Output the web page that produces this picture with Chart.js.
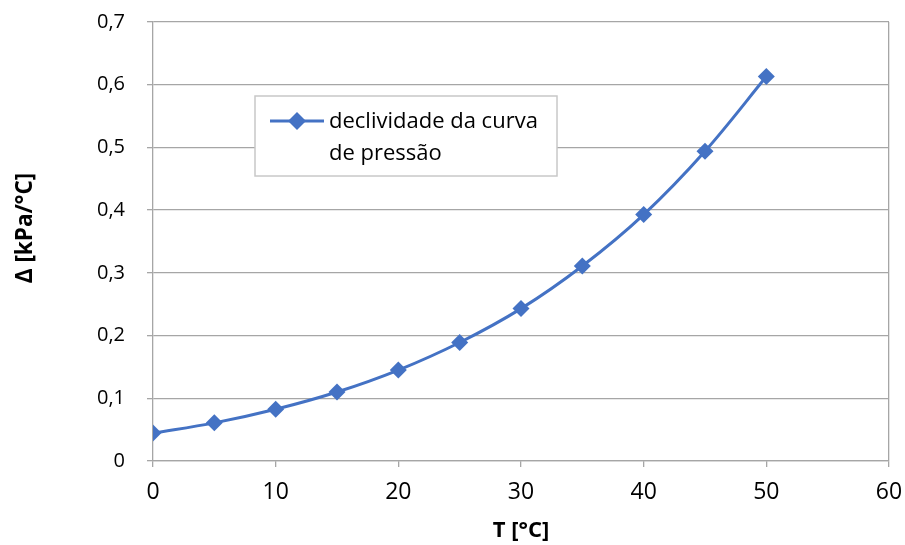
<!DOCTYPE html>
<html>
<head>
<meta charset="utf-8">
<script src="https://cdn.jsdelivr.net/npm/chart.js@4"></script>
<style>
  html, body { margin: 0; padding: 0; background: #fff; }
  #wrap { width: 905px; height: 545px; }
</style>
</head>
<body>
<div id="wrap"><canvas id="grafico" width="905" height="545"></canvas></div>
<script>
// temperatura (°C) e declividade da curva de pressão (kPa/°C)
const temperaturas = [0, 5, 10, 15, 20, 25, 30, 35, 40, 45, 50];
const declividade = [0.0445, 0.0608, 0.0825, 0.110, 0.145, 0.189, 0.243, 0.311, 0.393, 0.494, 0.613];
const serieNome = ['declividade da curva', 'de pressão'];
const tituloX = 'T [°C]';
const tituloY = 'Δ [kPa/°C]';

const fonte = '"Open Sans", sans-serif';
const azul = '#4472C4';
const cinza = '#a6a6a6';

// legenda e título do eixo y desenhados à mão, como no Excel
const extras = {
  id: 'extras',
  afterDraw(chart) {
    const c = chart.ctx;
    c.save();
    c.fillStyle = '#fff';
    c.fillRect(255, 96, 302, 80);
    c.strokeStyle = '#c8c8c8';
    c.lineWidth = 1.5;
    c.strokeRect(255, 96, 302, 80);

    c.strokeStyle = azul;
    c.lineWidth = 3;
    c.beginPath();
    c.moveTo(270, 121);
    c.lineTo(324, 121);
    c.stroke();

    c.fillStyle = azul;
    c.beginPath();
    c.moveTo(297, 112);
    c.lineTo(306, 121);
    c.lineTo(297, 130);
    c.lineTo(288, 121);
    c.closePath();
    c.fill();

    c.fillStyle = '#000';
    c.font = '22px ' + fonte;
    c.textBaseline = 'alphabetic';
    c.fillText(serieNome[0], 329, 128);
    c.fillText(serieNome[1], 329, 160);

    // título do eixo y
    c.translate(26, 228);
    c.rotate(-Math.PI / 2);
    c.font = 'bold 22.5px ' + fonte;
    c.textAlign = 'center';
    c.textBaseline = 'middle';
    c.fillText(tituloY, 0, 0);
    c.restore();
  }
};

const pontos = temperaturas.map((t, i) => ({ x: t, y: declividade[i] }));

new Chart(document.getElementById('grafico').getContext('2d'), {
  type: 'line',
  data: {
    datasets: [{
      label: serieNome.join(' '),
      data: pontos,
      borderColor: azul,
      backgroundColor: azul,
      borderWidth: 3,
      tension: 0.35,
      pointStyle: 'rectRot',
      pointRadius: 8.5,
      pointHoverRadius: 8.5,
      pointBorderWidth: 0
    }]
  },
  options: {
    responsive: false,
    animation: false,
    layout: { padding: { top: 22, right: 16, left: 0, bottom: 0 } },
    plugins: {
      legend: { display: false },
      tooltip: { enabled: false }
    },
    scales: {
      x: {
        type: 'linear',
        min: 0,
        max: 60,
        afterFit: s => {
          s.height = 84;
          s.paddingLeft = 0;
          s.paddingRight = 0;
        },
        border: { color: cinza, width: 1.3 },
        grid: {
          color: ctx => (ctx.index === 6 ? cinza : 'rgba(0,0,0,0)'),
          lineWidth: 1.3,
          tickColor: cinza,
          tickLength: 6
        },
        ticks: {
          stepSize: 10,
          color: '#000',
          padding: 12,
          font: { family: fonte, size: 23 }
        },
        title: {
          display: true,
          text: tituloX,
          color: '#000',
          font: { family: fonte, size: 22, weight: 'bold' },
          padding: { top: 0, bottom: 1 }
        }
      },
      y: {
        min: 0,
        max: 0.7,
        afterFit: s => {
          s.width = 153;
          s.paddingTop = 0;
          s.paddingBottom = 0;
        },
        border: { color: cinza, width: 1.3 },
        grid: {
          color: cinza,
          lineWidth: 1.3,
          tickColor: cinza,
          tickLength: 6
        },
        ticks: {
          stepSize: 0.1,
          color: '#000',
          padding: 22,
          font: { family: fonte, size: 20 },
          callback: v => (v === 0 ? '0' : v.toFixed(1).replace('.', ','))
        },
        title: { display: false }
      }
    }
  },
  plugins: [extras]
});
</script>
</body>
</html>
